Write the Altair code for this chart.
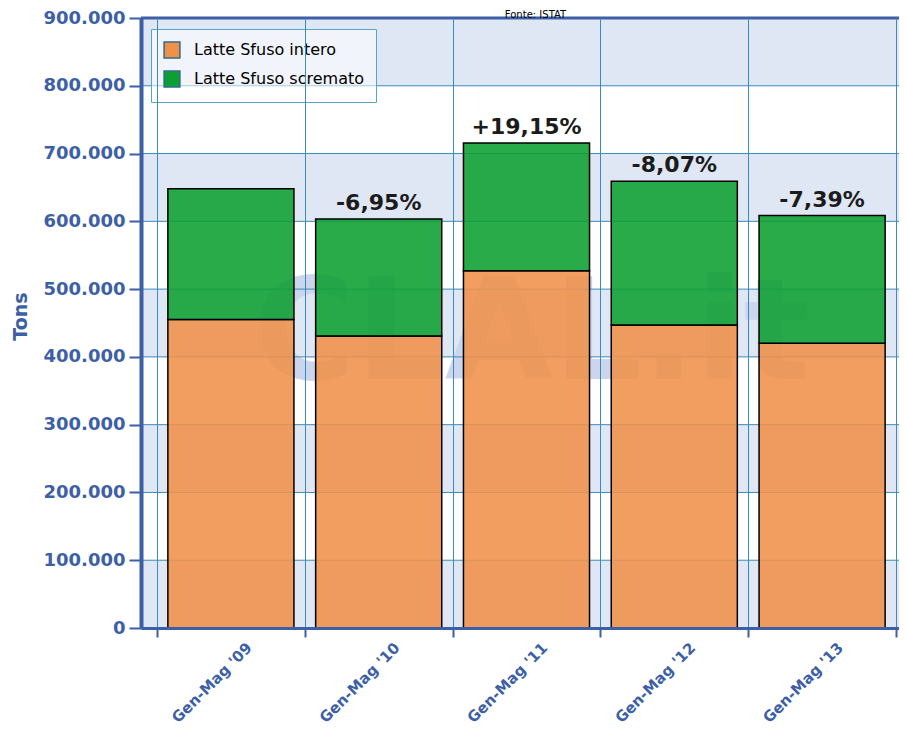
import altair as alt
import pandas as pd

# ---- data ----
periods = ["Gen-Mag '09", "Gen-Mag '10", "Gen-Mag '11", "Gen-Mag '12", "Gen-Mag '13"]
series = ["Latte Sfuso intero", "Latte Sfuso scremato"]
intero = [455000, 431000, 527000, 447000, 420000]
scremato = [193000, 172500, 188500, 212000, 188500]
variazioni = ["", "-6,95%", "+19,15%", "-8,07%", "-7,39%"]
y_ticks = [0, 100000, 200000, 300000, 400000, 500000, 600000, 700000, 800000, 900000]
band_lo = [0, 200000, 400000, 600000, 800000]
band_step = 100000
watermark = "CLAL.it"
fonte = "Fonte: ISTAT"

# ---- styling ----
AX_BLUE = "#3d5fa6"
GRID = "#3b8bba"
FONT = "DejaVu Sans"
colors = ["#f0914a", "#0c9f31"]

rows = []
for i, p in enumerate(periods):
    rows.append({"period": p, "serie": series[0], "value": intero[i], "k": 0})
    rows.append({"period": p, "serie": series[1], "value": scremato[i], "k": 1})
bars_df = pd.DataFrame(rows)
tot_df = pd.DataFrame({
    "period": periods,
    "total": [a + b for a, b in zip(intero, scremato)],
    "label": variazioni,
})
bands_df = pd.DataFrame({"lo": band_lo, "hi": [v + band_step for v in band_lo]})
grid_df = pd.DataFrame({"y": y_ticks})
one_df = pd.DataFrame({"t": [watermark], "f": [fonte]})

yscale = alt.Scale(domain=[0, 900000], nice=False)
y_axis = alt.Axis(
    values=y_ticks,
    labelExpr="replace(format(datum.value, ','), ',', '.')",
    labelFont=FONT, labelFontSize=18, labelFontWeight="bold", labelColor=AX_BLUE,
    labelPadding=4, tickSize=12, tickWidth=2, tickColor=AX_BLUE,
    domainWidth=4, domainColor=AX_BLUE, grid=False,
    title="Tons", titleFont=FONT, titleFontSize=19, titleFontWeight="bold",
    titleColor=AX_BLUE, titleX=-121, titleY=298, titleAngle=270,
    titleBaseline="middle", titleAlign="center", zindex=1,
)
x_axis = alt.Axis(
    title=None, labelAngle=-45, labelAlign="right", labelBaseline="top",
    labelFont=FONT, labelFontSize=15, labelFontWeight="bold", labelColor=AX_BLUE,
    labelOffset=13, labelPadding=3, tickSize=9, tickWidth=2, tickColor=AX_BLUE,
    domainWidth=3, domainColor=AX_BLUE, grid=True, gridColor=GRID, gridWidth=1,
    tickBand="extent", zindex=1,
)
xscale = alt.Scale(domain=periods, paddingInner=0, paddingOuter=0.0643, align=0.842)
x_enc = alt.X("period:N", sort=periods, scale=xscale, axis=x_axis)

bands = alt.Chart(bands_df).mark_rect(color="#e0e7f4").encode(
    y=alt.Y("lo:Q", scale=yscale, axis=y_axis),
    y2="hi:Q",
    x=alt.value(0),
    x2=alt.value("width"),
)

wm = alt.Chart(one_df).mark_text(
    font=FONT, fontWeight="bold", fontSize=140,
    color="#cbd6ee", baseline="middle", align="center", dx=5,
).encode(
    x=alt.datum(periods[2]),
    y=alt.datum(430000),
    text="t:N",
)

hgrid = alt.Chart(grid_df).mark_rule(color=GRID, strokeWidth=1).encode(
    y=alt.Y("y:Q", scale=yscale, axis=y_axis),
)

bars = alt.Chart(bars_df).mark_bar(
    width=alt.RelativeBandSize(0.853), stroke="black", strokeWidth=1.5, fillOpacity=0.88,
).encode(
    x=x_enc,
    y=alt.Y("value:Q", stack="zero", scale=yscale, axis=y_axis),
    color=alt.Color(
        "serie:N",
        scale=alt.Scale(domain=series, range=colors),
        legend=alt.Legend(
            title=None, orient="none", legendX=10, legendY=11, direction="vertical",
            symbolType="square", symbolSize=250, symbolStrokeColor="#2d6b8c",
            symbolStrokeWidth=1.5, symbolOpacity=1,
            labelFont=FONT, labelFontSize=16, labelColor="black", labelOffset=13,
            labelLimit=400, rowPadding=7, padding=12,
            fillColor="rgba(255,255,255,0.55)", strokeColor="#5ba3c4",
        ),
    ),
    order=alt.Order("k:Q"),
)

pct = alt.Chart(tot_df).mark_text(
    font=FONT, fontSize=22, fontWeight="bold", color="#1b1b1b",
    baseline="alphabetic", dy=-9,
).encode(
    x=x_enc,
    y=alt.Y("total:Q", scale=yscale, axis=y_axis),
    text="label:N",
)

top_border = alt.Chart(one_df).mark_rule(color=AX_BLUE, strokeWidth=3).encode(
    y=alt.datum(900000),
)

# source note above the plot
source_note = alt.Chart(one_df).mark_text(
    font=FONT, fontSize=10, color="black", baseline="alphabetic", align="center", dx=9,
).encode(
    x=alt.datum(periods[2]),
    y=alt.value(-0.5),
    text="f:N",
)

chart = alt.layer(bands, wm, hgrid, bars, pct, top_border, source_note).properties(
    width=758,
    height=610,
    padding={"left": 133, "top": 10, "right": 0, "bottom": 101},
    autosize=alt.AutoSizeParams(type="none"),
).configure_view(stroke=None, fill="#f4f7fc").configure(background="white")

chart.save("out.html", embed_options={"renderer": "svg", "actions": False})
